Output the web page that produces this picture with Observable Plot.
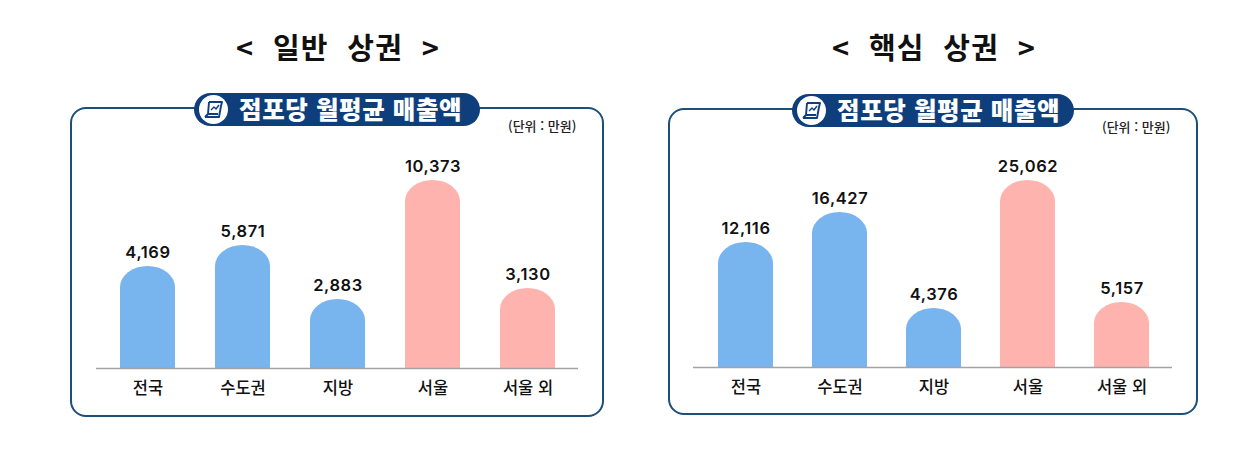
<!DOCTYPE html>
<html lang="ko"><head><meta charset="utf-8">
<script src="https://cdn.jsdelivr.net/npm/d3@7"></script>
<script src="https://cdn.jsdelivr.net/npm/@observablehq/plot@0.6"></script>
<style>
html,body{margin:0;padding:0;background:#fff;width:1252px;height:460px;overflow:hidden;font-family:"Noto Sans CJK KR","Noto Sans",sans-serif}
.abs{position:absolute;box-sizing:border-box}
.title{font-weight:700;font-size:29px;color:#111;white-space:pre;text-align:center;transform:translateX(-50%);line-height:36px;letter-spacing:1.2px}
.panel{border:2px solid #1d4f79;border-radius:16px;background:#fff}
.pill{background:#0e3f7c;border-radius:17px;color:#fff;font-weight:700;font-size:24.5px;line-height:33px;height:33px;white-space:pre}
.pill span{position:absolute;left:45px;top:-1px;letter-spacing:.6px;font-weight:900}
.pill svg{position:absolute;left:2px;top:2px}
.unit{font-size:13px;font-weight:500;color:#222;white-space:pre;line-height:16px}
.abs svg{overflow:visible}
g.num text{letter-spacing:.6px}
</style></head><body>
<script>
const categories = ["전국", "수도권", "지방", "서울", "서울 외"];
const generalLabels = ["4,169", "5,871", "2,883", "10,373", "3,130"];
const coreLabels = ["12,116", "16,427", "4,376", "25,062", "5,157"];
// The source bars are not drawn to scale with their printed values,
// so the drawn bar lengths are read off the picture separately.
const generalDrawn = [102, 123, 69, 188, 80];
const coreDrawn = [125, 155, 59, 187, 65];
const barColors = ["#78b5ee", "#78b5ee", "#78b5ee", "#ffb3ae", "#ffb3ae"];
const pillTitle = "점포당 월평균 매출액";
const unitText = "(단위 : 만원)";

function el(cls, style, html) {
  const d = document.createElement("div");
  d.className = "abs " + cls;
  Object.assign(d.style, style);
  if (html) d.innerHTML = html;
  document.body.appendChild(d);
  return d;
}
const icon = `<svg width="29" height="29" viewBox="0 0 29 29"><circle cx="14.5" cy="14.5" r="14.5" fill="#fff" transform="translate(3 0)"/>
<g transform="translate(3 0)" fill="none" stroke="#0e3f7c" stroke-width="1.9" stroke-linejoin="round"><path d="M10 7h13l-1 4M10 7l-1 12M6 22h14l2-11M6 22l3-3h10"/><path d="M12 15l3-3 2 2 3-4" stroke-width="1.4"/></g></svg>`;

function chart({title, titleX, titleY, frame, pill, unitX, unitY, labels, drawn, band}) {
  el("title", {left: titleX + "px", top: titleY + "px"}, title);
  el("panel", {left: frame.x + "px", top: frame.y + "px", width: frame.w + "px", height: frame.h + "px"});
  el("pill", {left: pill.x + "px", top: pill.y + "px", width: pill.w + "px"}, icon + `<span>${pillTitle}</span>`);
  el("unit", {left: unitX + "px", top: unitY + "px"}, unitText);
  const rows = categories.map((c, i) => ({c, label: labels[i], h: drawn[i], color: barColors[i]}));
  const base = frame.base - frame.y;
  const shoulder = 21;
  const plot = Plot.plot({
    width: frame.w, height: frame.h,
    marginTop: 0, marginLeft: band.ruleL, marginRight: band.ruleR, marginBottom: frame.h - base,
    style: {background: "transparent", fontFamily: '"Noto Sans CJK KR",sans-serif'},
    x: {domain: categories, range: band.range, paddingInner: 0.42, paddingOuter: 0.21, label: null},
    y: {domain: [0, base], range: [base, 0], axis: null},
    marks: [
      Plot.barY(rows, {x: "c", y: "h", fill: d => d.color, rx: 27.5, ry: shoulder}),
      Plot.barY(rows, {x: "c", y: d => d.h - shoulder, fill: d => d.color}),
      Plot.ruleY([0], {stroke: "#a3a3a3", strokeWidth: 1.6}),
      Plot.axisX({tickSize: 0, tickPadding: 14, fontSize: 16.5, fontWeight: 500, fill: "#111", label: null}),
      Plot.text(rows, {x: "c", y: "h", text: "label", dy: -13.5, fontSize: 16.5, fontWeight: 600, fill: "#111",
        fontFamily: "Inter, sans-serif", className: "num"})
    ]
  });
  const holder = el("", {left: frame.x + "px", top: frame.y + "px"});
  holder.appendChild(plot);
}

chart({title: "<  일반  상권  >", titleX: 338, titleY: 28,
  frame: {x: 70, y: 107, w: 534, h: 310, base: 368},
  pill: {x: 194, y: 93, w: 286}, unitX: 508, unitY: 118,
  labels: generalLabels, drawn: generalDrawn,
  band: {ruleL: 26, ruleR: 26, range: [30, 505]}});
chart({title: "<  핵심  상권  >", titleX: 934, titleY: 28,
  frame: {x: 668, y: 108, w: 530, h: 307, base: 367},
  pill: {x: 792, y: 94, w: 282}, unitX: 1102, unitY: 119,
  labels: coreLabels, drawn: coreDrawn,
  band: {ruleL: 25, ruleR: 26, range: [29, 501.5]}});
</script>
</body></html>
